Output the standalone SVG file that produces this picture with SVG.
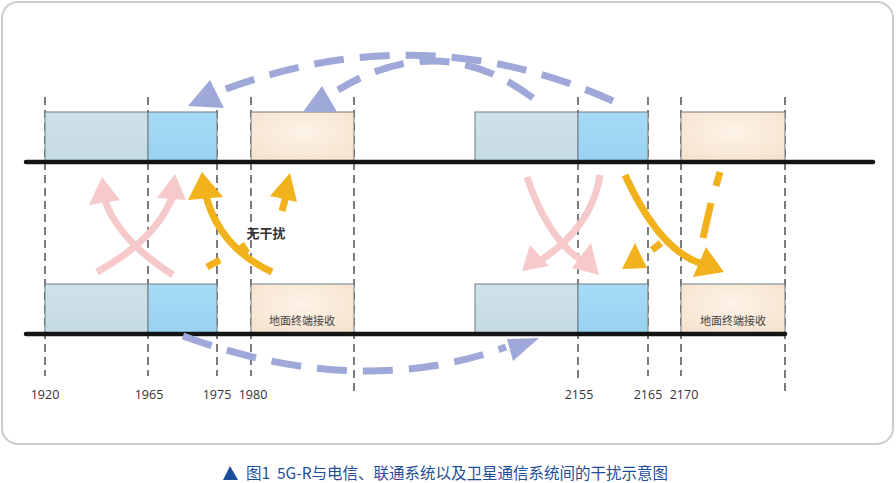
<svg xmlns="http://www.w3.org/2000/svg" width="896" height="483" viewBox="0 0 896 483">
<defs>
<style>
.vl{stroke:#111;stroke-width:1.1;stroke-dasharray:8 5;fill:none}
.axis{stroke:#141414;stroke-width:4.5;stroke-linecap:round}
.bx{stroke:#6f7a80;stroke-width:1}
.lb{fill:url(#gLb)}
.db{fill:url(#gDb)}
.pc{fill:url(#gPc)}
.num{font-family:"Open Sans","Noto Sans","DejaVu Sans",sans-serif;font-size:12.5px;fill:#333;text-anchor:middle}
.blab{font-family:"Noto Sans CJK SC",sans-serif;font-size:11px;fill:#444;text-anchor:middle}
.pink{stroke:#f6caca;stroke-width:7;fill:none;stroke-linecap:butt}
.pinkh{fill:#f6caca}
.org{stroke:#f1b21c;stroke-width:7;fill:none}
.orgh{fill:#f1b21c}
.blue{stroke:#9ea8d9;stroke-width:7;fill:none;stroke-dasharray:30 16}
.blueh{fill:#9ea8d9}
.cap{font-family:"Noto Sans CJK SC",sans-serif;font-size:15.5px;fill:#1d4e9a}
</style>
<linearGradient id="gLb" x1="0" y1="0" x2="0" y2="1"><stop offset="0" stop-color="#cfe2ea"/><stop offset="1" stop-color="#c4dae4"/></linearGradient>
<linearGradient id="gDb" x1="0" y1="0" x2="0" y2="1"><stop offset="0" stop-color="#a7dbf6"/><stop offset="1" stop-color="#98d2f1"/></linearGradient>
<radialGradient id="gPc" cx="0.5" cy="0.4" r="0.7"><stop offset="0" stop-color="#fdf3e8"/><stop offset="1" stop-color="#f6e2cd"/></radialGradient>
</defs>
<rect x="2" y="2" width="891" height="442" rx="16" fill="#fff" stroke="#cdcdcd" stroke-width="2"/>

<g id="gridlines">
<line class="vl" x1="45" y1="97" x2="45" y2="376"/>
<line class="vl" x1="148" y1="97" x2="148" y2="376"/>
<line class="vl" x1="217" y1="97" x2="217" y2="376"/>
<line class="vl" x1="251" y1="97" x2="251" y2="376"/>
<line class="vl" x1="354" y1="97" x2="354" y2="395"/>
<line class="vl" x1="578" y1="97" x2="578" y2="380"/>
<line class="vl" x1="648" y1="97" x2="648" y2="376"/>
<line class="vl" x1="681" y1="97" x2="681" y2="376"/>
<line class="vl" x1="785" y1="97" x2="785" y2="395"/>
</g>

<g id="top-row">
<rect class="bx lb" x="45" y="112" width="103" height="50"/>
<rect class="bx db" x="148" y="112" width="69" height="50"/>
<rect class="bx pc" x="251" y="112" width="103" height="50"/>
<rect class="bx lb" x="475" y="112" width="103" height="50"/>
<rect class="bx db" x="578" y="112" width="70" height="50"/>
<rect class="bx pc" x="681" y="112" width="104" height="50"/>
<line class="axis" x1="26" y1="162" x2="873" y2="162"/>
</g>

<g id="bottom-row">
<rect class="bx lb" x="45" y="284" width="103" height="50"/>
<rect class="bx db" x="148" y="284" width="69" height="50"/>
<rect class="bx pc" x="251" y="284" width="103" height="50"/>
<text class="blab" x="302" y="325">地面终端接收</text>
<rect class="bx lb" x="475" y="284" width="103" height="50"/>
<rect class="bx db" x="578" y="284" width="70" height="50"/>
<rect class="bx pc" x="681" y="284" width="104" height="50"/>
<text class="blab" x="733" y="325">地面终端接收</text>
<line class="axis" x1="26" y1="334" x2="785" y2="334"/>
</g>

<g id="labels">
<text class="num" x="45" y="399">1920</text>
<text class="num" x="149" y="399">1965</text>
<text class="num" x="217" y="399">1975</text>
<text class="num" x="253" y="399">1980</text>
<text class="num" x="579" y="399">2155</text>
<text class="num" x="648" y="399">2165</text>
<text class="num" x="684" y="399">2170</text>
<text x="266" y="238" font-family="Noto Sans CJK SC,sans-serif" font-size="13" font-weight="bold" fill="#333" text-anchor="middle">无干扰</text>
</g>

<g id="connectors">
<path class="pink" d="M173,275 Q118,240 104,198"/>
<polygon class="pinkh" points="102,177 89,205 120,200"/>
<path class="pink" d="M97,272 Q155,240 172,198"/>
<polygon class="pinkh" points="175,174 157,198 186,200"/>
<path class="org" d="M272,272 Q220,248 206,196"/>
<polygon class="orgh" points="202,172 188,200 223,197"/>
<line class="org" x1="207" y1="267" x2="220" y2="260" stroke-width="6"/>
<line class="org" x1="241" y1="244" x2="247" y2="253" stroke-width="5"/>
<line class="org" x1="282" y1="211" x2="286" y2="196" stroke-width="7"/>
<polygon class="orgh" points="290,173 270,196 297,202"/>

<path class="pink" d="M527,177 Q548,240 584,262"/>
<polygon class="pinkh" points="599,275 572,268 591,243"/>
<path class="pink" d="M600,175 Q592,228 538,262"/>
<polygon class="pinkh" points="522,271 530,245 549,266"/>
<path class="org" d="M625,175 Q660,252 703,264"/>
<polygon class="orgh" points="724,272 693,277 706,247"/>
<line class="org" x1="652" y1="250" x2="661" y2="243" stroke-width="6"/>
<polygon class="orgh" points="635,243 622,269 647,268"/>
<line class="org" x1="720" y1="172" x2="716" y2="186" stroke-width="6"/>
<line class="org" x1="711" y1="203" x2="703" y2="238" stroke-width="5"/>

<path class="blue" d="M613,101 Q420,14 218,92"/>
<polygon class="blueh" points="188,106 210,80 224,108"/>
<path class="blue" d="M533,98 Q440,28 338,90"/>
<polygon class="blueh" points="322,86 303,112 337,112"/>
<path class="blue" d="M183,336 Q360,400 506,347"/>
<polygon class="blueh" points="539,338 507,339 513,361"/>
</g>

<g id="caption">
<polygon points="230,466 223,480 238,480" fill="#1d4e9a"/>
<text class="cap" x="246" y="479">图1</text>
<text class="cap" x="277" y="479">5G-R与电信、联通系统以及卫星通信系统间的干扰示意图</text>
</g>
</svg>
